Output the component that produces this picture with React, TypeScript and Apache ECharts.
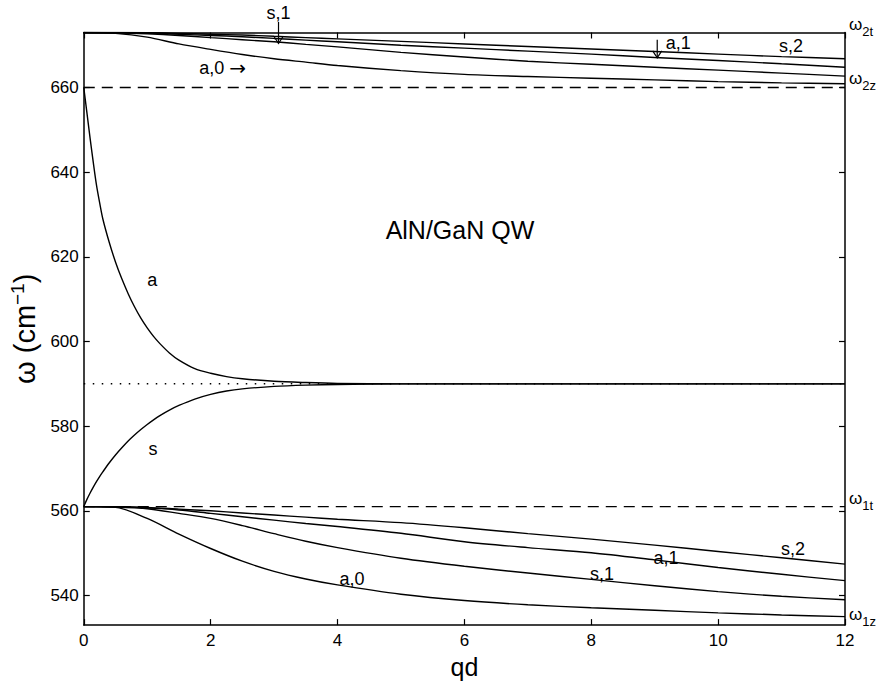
import React, { useEffect, useRef } from "react";
import * as echarts from "echarts";

// ---------- data ----------
const xTicks = [0, 2, 4, 6, 8, 10, 12];
const yTicks = [540, 560, 580, 600, 620, 640, 660];

const qdFine = [0, 0.05, 0.1, 0.15, 0.2, 0.25, 0.3, 0.4, 0.5, 0.6, 0.7, 0.8, 0.9, 1, 1.1, 1.2, 1.35, 1.5, 1.75, 2, 2.25, 2.5, 3, 3.5, 4, 5, 6, 8, 10, 12];
const modeA = [660, 654, 648, 642.3, 637, 632.8, 629, 623.5, 618.8, 614.8, 611.3, 608.2, 605.5, 603.2, 601.2, 599.5, 597.3, 595.6, 593.6, 592.5, 591.7, 591.2, 590.6, 590.3, 590.1, 590, 590, 590, 590, 590];
const modeS = [561, 562.7, 564.2, 565.6, 566.9, 568.1, 569.2, 571.3, 573.2, 574.9, 576.5, 577.9, 579.2, 580.4, 581.5, 582.5, 583.8, 584.9, 586.4, 587.5, 588.3, 588.8, 589.4, 589.7, 589.85, 590, 590, 590, 590, 590];

const qdCoarse = [0, 0.5, 1, 1.5, 2, 2.5, 3, 3.5, 4, 5, 6, 7, 8, 9, 10, 11, 12];
const upperA0 = [673, 672.8, 671.9, 670.3, 669.0, 667.8, 666.8, 666.0, 665.2, 664.0, 663.1, 662.6, 662.2, 661.8, 661.4, 661.1, 660.9];
const upperS1 = [673, 672.95, 672.7, 672.3, 671.8, 671.3, 670.8, 670.2, 669.6, 668.3, 667.2, 666.2, 665.5, 664.8, 664.1, 663.4, 662.7];
const upperA1 = [673, 673, 672.9, 672.6, 672.3, 672.0, 671.6, 671.2, 670.8, 670.0, 669.3, 668.6, 667.9, 667.1, 666.4, 665.6, 664.8];
const upperS2 = [673, 673, 672.95, 672.8, 672.6, 672.4, 672.1, 671.8, 671.5, 670.9, 670.3, 669.7, 669.1, 668.5, 667.9, 667.3, 666.8];

const lowerA0 = [561, 560.8, 558.2, 554.5, 551.1, 548.1, 545.7, 543.9, 542.5, 540.3, 538.8, 537.8, 537.1, 536.5, 535.9, 535.4, 535.0];
const lowerS1 = [561, 560.9, 560.5, 559.4, 558.2, 556.5, 554.6, 552.8, 551.3, 548.8, 546.9, 545.3, 543.8, 542.3, 540.9, 539.8, 539.0];
const lowerA1 = [561, 561, 560.7, 560.2, 559.4, 558.6, 557.8, 557.0, 556.3, 554.7, 552.7, 551.3, 550.1, 548.4, 546.6, 545.0, 543.5];
const lowerS2 = [561, 561, 560.8, 560.4, 560.0, 559.5, 559.0, 558.5, 558.0, 557.2, 556.0, 554.6, 553.3, 551.9, 550.4, 548.9, 547.4];

const omega2z = 660;
const omega1t = 561;
const omegaMid = 590;

// text annotations in data coordinates
const notes = [
  { text: "s,1", qd: 3.07, w: 677.6 },
  { text: "a,1", qd: 9.37, w: 670.6 },
  { text: "s,2", qd: 11.15, w: 669.9 },
  { text: "a", qd: 1.08, w: 614.5 },
  { text: "s", qd: 1.09, w: 574.6 },
  { text: "a,0", qd: 4.23, w: 543.8 },
  { text: "s,1", qd: 8.17, w: 545.1 },
  { text: "a,1", qd: 9.18, w: 548.9 },
  { text: "s,2", qd: 11.18, w: 551.0 },
];
const arrowNote = { text: "a,0", qd: 2.19, w: 664.6 };
const title = { text: "AlN/GaN QW", qd: 5.93, w: 626.4 };
const omegaLabels = [
  { sub: "2t", w: 675.0 },
  { sub: "2z", w: 662.2 },
  { sub: "1t", w: 563.0 },
  { sub: "1z", w: 535.6 },
];
const arrows = [
  { qd: 3.07, from: 675.5, to: 670.4 },
  { qd: 9.04, from: 671.3, to: 667.0 },
];

const FONT = "'Liberation Sans', Arial, Helvetica, sans-serif";

export default function App() {
  const ref = useRef<HTMLDivElement>(null);
  useEffect(() => {
    document.body.style.margin = "0";
    const chart = echarts.init(ref.current!, null, { renderer: "svg" });

    const curve = (name: string, xs: number[], ys: number[]) => ({
      name,
      type: "line",
      data: xs.map((x, i) => [x, ys[i]]),
      showSymbol: false,
      symbol: "none",
      smooth: 0.3,
      lineStyle: { color: "#000", width: 1.4 },
      z: 3,
    });
    const hline = (name: string, v: number, type: any, width: number) => ({
      name,
      type: "line",
      data: [[xTicks[0], v], [xTicks[xTicks.length - 1], v]],
      showSymbol: false,
      symbol: "none",
      lineStyle: { color: "#000", width, type },
      z: 2,
    });

    const axisCommon = {
      min: xTicks[0],
      max: xTicks[xTicks.length - 1],
    };
    const yMin = 533;
    const yMax = 673;

    chart.setOption({
      animation: false,
      backgroundColor: "#fff",
      textStyle: { fontFamily: FONT },
      grid: { left: 81.5, right: 36, top: 32.5, bottom: 52, containLabel: false },
      xAxis: [
        {
          type: "value",
          ...axisCommon,
          interval: 2,
          position: "bottom",
          name: "qd",
          nameLocation: "middle",
          nameGap: 21,
          nameTextStyle: { fontSize: 25, color: "#000", fontFamily: FONT },
          axisLine: { show: true, onZero: false, lineStyle: { color: "#000", width: 1.5 } },
          axisTick: { show: true, inside: true, length: 6, lineStyle: { color: "#000", width: 1.2 } },
          axisLabel: { show: true, color: "#000", fontSize: 17, margin: 7, fontFamily: FONT },
          splitLine: { show: false },
        },
        {
          type: "value",
          ...axisCommon,
          interval: 2,
          position: "top",
          axisLine: { show: true, onZero: false, lineStyle: { color: "#000", width: 1.5 } },
          axisTick: { show: true, inside: true, length: 6, lineStyle: { color: "#000", width: 1.2 } },
          axisLabel: { show: false },
          splitLine: { show: false },
        },
      ],
      yAxis: [
        {
          type: "value",
          min: yMin,
          max: yMax,
          position: "left",
          name: "{a|ω (cm}{sup|−1}{a|)}",
          nameLocation: "middle",
          nameRotate: 90,
          nameGap: 38,
          nameTextStyle: {
            color: "#000",
            fontFamily: FONT,
            rich: {
              a: { fontSize: 29, fontFamily: FONT, color: "#000" },
              sup: { fontSize: 19, fontFamily: FONT, color: "#000", padding: [0, 0, 15, 0] },
            },
          },
          axisLine: { show: true, onZero: false, lineStyle: { color: "#000", width: 1.5 } },
          axisTick: { show: true, inside: true, length: 6, customValues: yTicks, lineStyle: { color: "#000", width: 1.2 } },
          axisLabel: { show: true, color: "#000", fontSize: 17, margin: 5, customValues: yTicks, fontFamily: FONT },
          splitLine: { show: false },
        },
        {
          type: "value",
          min: yMin,
          max: yMax,
          position: "right",
          axisLine: { show: true, onZero: false, lineStyle: { color: "#000", width: 1.5 } },
          axisTick: { show: true, inside: true, length: 6, customValues: yTicks, lineStyle: { color: "#000", width: 1.2 } },
          axisLabel: { show: false },
          splitLine: { show: false },
        },
      ],
      series: [
        hline("ω2z", omega2z, [11, 7], 1.4),
        hline("ω1t", omega1t, [11, 7], 1.4),
        hline("mid", omegaMid, [1.5, 7.5], 1.5),
        curve("a", qdFine, modeA),
        curve("s", qdFine, modeS),
        curve("upper a,0", qdCoarse, upperA0),
        curve("upper s,1", qdCoarse, upperS1),
        curve("upper a,1", qdCoarse, upperA1),
        curve("upper s,2", qdCoarse, upperS2),
        curve("lower a,0", qdCoarse, lowerA0),
        curve("lower s,1", qdCoarse, lowerS1),
        curve("lower a,1", qdCoarse, lowerA1),
        curve("lower s,2", qdCoarse, lowerS2),
      ],
    });

    const toPx = (x: number, y: number) =>
      chart.convertToPixel({ xAxisIndex: 0, yAxisIndex: 0 }, [x, y]) as number[];

    const graphics: any[] = [];
    notes.forEach((n) => {
      const [px, py] = toPx(n.qd, n.w);
      graphics.push({
        type: "text",
        x: px,
        y: py,
        z: 10,
        style: { text: n.text, fontSize: 18, fontFamily: FONT, fill: "#000", align: "center", verticalAlign: "middle" },
      });
    });
    {
      const [px, py] = toPx(arrowNote.qd, arrowNote.w);
      graphics.push({
        type: "text",
        x: px,
        y: py,
        z: 10,
        style: {
          text: "{t|" + arrowNote.text + " }{ar|→}",
          align: "center",
          verticalAlign: "middle",
          rich: {
            t: { fontSize: 18, fontFamily: FONT, fill: "#000", color: "#000" },
            ar: { fontSize: 20, fontFamily: "'DejaVu Sans', sans-serif", fill: "#000", color: "#000" },
          },
        },
      });
    }
    {
      const [px, py] = toPx(title.qd, title.w);
      graphics.push({
        type: "text",
        x: px,
        y: py,
        z: 10,
        style: { text: title.text, fontSize: 25, fontFamily: FONT, fill: "#000", align: "center", verticalAlign: "middle" },
      });
    }
    omegaLabels.forEach((o) => {
      const [px, py] = toPx(xTicks[xTicks.length - 1], o.w);
      graphics.push({
        type: "text",
        x: px + 4,
        y: py,
        z: 10,
        style: {
          text: "{w|ω}{s|" + o.sub + "}",
          align: "left",
          verticalAlign: "middle",
          fill: "#000",
          rich: {
            w: { fontSize: 17, fontFamily: FONT, fill: "#000", color: "#000" },
            s: { fontSize: 13, fontFamily: FONT, fill: "#000", color: "#000", padding: [14, 0, 0, 0] },
          },
        },
      });
    });
    arrows.forEach((a) => {
      const [x0, y0] = toPx(a.qd, a.from);
      const [x1, y1] = toPx(a.qd, a.to);
      graphics.push({
        type: "line",
        z: 10,
        shape: { x1: x0, y1: y0, x2: x1, y2: y1 },
        style: { stroke: "#000", lineWidth: 1.2 },
      });
      graphics.push({
        type: "polyline",
        z: 10,
        shape: { points: [[x1 - 4.5, y1 - 7], [x1, y1], [x1 + 4.5, y1 - 7]] },
        style: { stroke: "#000", lineWidth: 1.2, fill: "none" },
      });
    });
    chart.setOption({ graphic: graphics });

    return () => chart.dispose();
  }, []);
  return <div ref={ref} style={{ width: 881, height: 684 }} />;
}
